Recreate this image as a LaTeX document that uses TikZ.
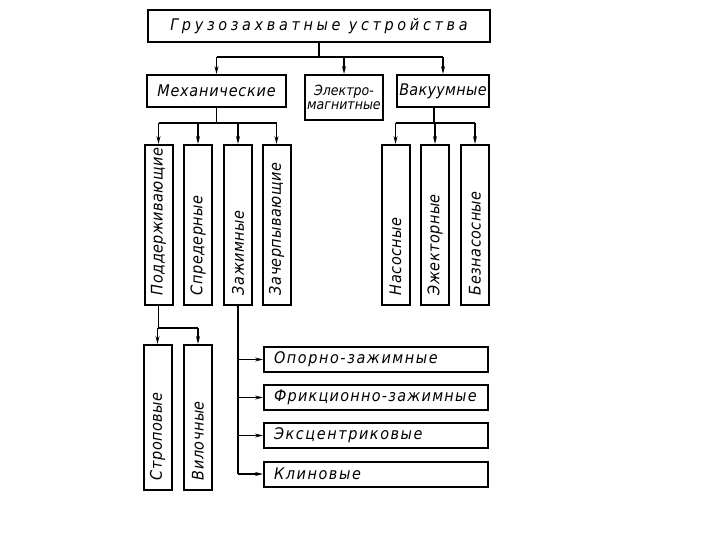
\documentclass[tikz,border=0pt]{standalone}
\usepackage{fontspec}
\setmainfont{Liberation Sans}
\newfontfamily\gostfont{DejaVu Sans Condensed Oblique}
\usepackage{tikz}
\usetikzlibrary{arrows.meta,positioning,calc}

\begin{document}
\begin{tikzpicture}[
	x=1pt,
	y=1pt,
	spaced/.style 2 args={font=\gostfont\fontsize{#1}{#1}\selectfont\addfontfeatures{LetterSpace=#2}},
	box/.style={draw=black,line width=2pt,inner sep=1pt,minimum height=32pt,align=center},
	vbox/.style={draw=black,line width=2pt,rotate=90,minimum height=28pt,inner ysep=0pt,inner xsep=10pt,align=left,spaced={16}{3}},
	hbox/.style={draw=black,line width=2pt,minimum width=224pt,minimum height=25pt,inner ysep=0pt,inner xsep=10pt,text width=204pt,align=left,spaced={16}{10}},
	link/.style={draw=black,line width=1.2pt},
	arrow/.style={link,-{Stealth[length=8pt,width=4pt]}}
	]
	\useasboundingbox (0,0) rectangle (720,-540);
	
	% Top levels
	\node[box,minimum width=342pt,spaced={16}{23}] (top) at (319,-26) {Грузозахватные устройства};
	\node[box,minimum width=139pt,spaced={16}{5}] (mech) at (216.5,-91) {Механические};
	\node[box,minimum width=78pt,minimum height=45pt,inner sep=0pt,spaced={14}{0}] (elec) at (344,-97.5) {Электро-\\магнитные};
	\node[box,minimum width=92pt,spaced={16}{2}] (vac) at (443,-91) {Вакуумные};
	
	% Vertical boxes
	\node[vbox,minimum width=160pt,text width=140pt] (podd) at (158.5,-225) {Поддерживающие};
	\node[vbox,minimum width=160pt,text width=140pt] (spred) at (198,-225) {Спредерные};
	\node[vbox,minimum width=160pt,text width=140pt] (zaj) at (238,-225) {Зажимные};
	\node[vbox,minimum width=160pt,text width=140pt] (zach) at (276.5,-225) {Зачерпывающие};
	\node[vbox,minimum width=160pt,text width=140pt] (nas) at (395.5,-225) {Насосные};
	\node[vbox,minimum width=160pt,text width=140pt] (ezh) at (435,-225) {Эжекторные};
	\node[vbox,minimum width=160pt,text width=140pt] (bez) at (475,-225) {Безнасосные};
	\node[vbox,minimum width=145pt,text width=125pt] (strop) at (157.5,-417.5) {Строповые};
	\node[vbox,minimum width=145pt,text width=125pt] (vil) at (198,-417.5) {Вилочные};
	
	% Clamp kinds
	\node[hbox] (opor) at (376,-359.5) {Опорно-зажимные};
	\node[hbox,spaced={16}{8}] (frik) at (376,-397.5) {\mbox{Фрикционно-зажимные}};
	\node[hbox] (ekst) at (376,-435.5) {Эксцентриковые};
	\node[hbox] (klin) at (376,-474) {Клиновые};
	
	% Buses
	\coordinate (busA) at (0,-57);
	\coordinate (busB) at (0,-123);
	\coordinate (busC) at (0,-328);
	
	\draw[link] (top.south) -- (top.south |- busA);
	\draw[link] (mech.north |- busA) -- (vac.north |- busA);
	\foreach \n in {mech,elec,vac} {
		\draw[arrow] (\n.north |- busA) -- (\n.north);
	}
	
	% rotated boxes: east is the top end, west the bottom end
	\draw[link] (mech.south) -- (mech.south |- busB);
	\draw[link] (podd.east |- busB) -- (zach.east |- busB);
	\foreach \n in {podd,spred,zaj,zach} {
		\draw[arrow] (\n.east |- busB) -- (\n.east);
	}
	\draw[link] ([xshift=-9pt]vac.south) -- ([xshift=-9pt]vac.south |- busB);
	\draw[link] (nas.east |- busB) -- (bez.east |- busB);
	\foreach \n in {nas,ezh,bez} {
		\draw[arrow] (\n.east |- busB) -- (\n.east);
	}
	
	\draw[link] (podd.west) -- (podd.west |- busC);
	\draw[link] (strop.east |- busC) -- (vil.east |- busC);
	\foreach \n in {strop,vil} {
		\draw[arrow] (\n.east |- busC) -- (\n.east);
	}
	
	\draw[link] (zaj.west) -- (zaj.west |- klin.west);
	\foreach \n in {opor,frik,ekst,klin} {
		\draw[arrow] (zaj.west |- \n.west) -- (\n.west);
	}
\end{tikzpicture}
\end{document}
